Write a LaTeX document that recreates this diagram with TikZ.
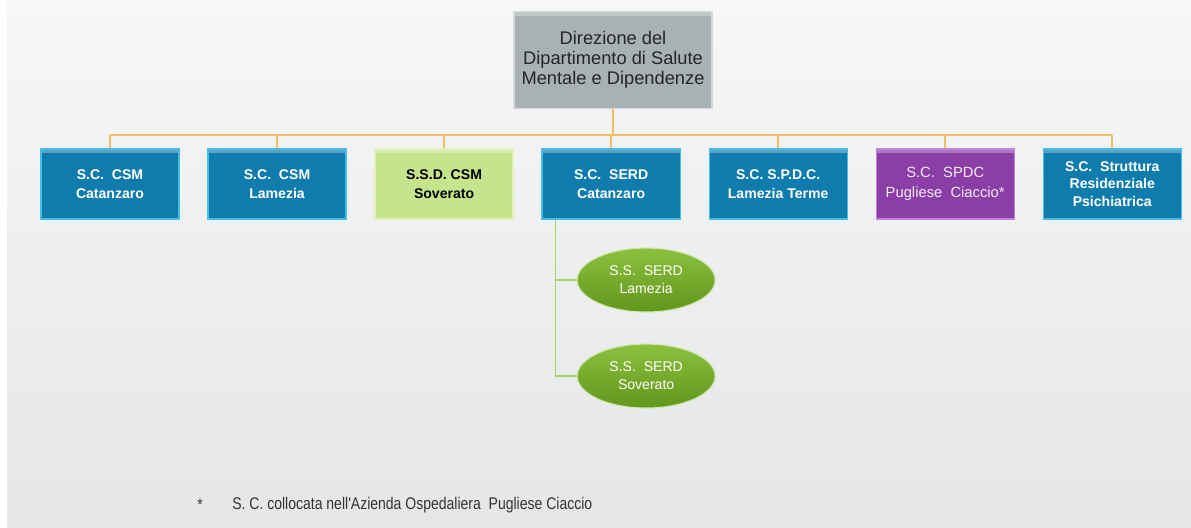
\documentclass[tikz,border=0pt]{standalone}
\usepackage{fontspec}
\setmainfont{Liberation Sans}
\newfontfamily\notefont[FakeStretch=0.83]{Liberation Sans}
\usetikzlibrary{positioning,shapes.geometric}

\definecolor{bgtop}{RGB}{247,247,247}
\definecolor{bgbot}{RGB}{229,230,232}
\definecolor{csmblue}{RGB}{16,124,174}
\definecolor{csmedge}{RGB}{70,190,228}
\definecolor{dirgray}{RGB}{168,177,179}
\definecolor{diredge}{RGB}{212,217,219}
\definecolor{ssdgreen}{RGB}{198,228,140}
\definecolor{ssdedge}{RGB}{226,242,190}
\definecolor{aopurple}{RGB}{138,62,166}
\definecolor{aoedge}{RGB}{196,130,222}
\definecolor{serdgreen}{RGB}{98,150,28}
\definecolor{serdlight}{RGB}{140,192,62}
\definecolor{orgorange}{RGB}{242,192,96}
\definecolor{subgreen}{RGB}{170,208,106}

\begin{document}
\begin{tikzpicture}[x=0.025cm,y=-0.025cm,node distance=4.175cm,on grid,
    unit/.style={rectangle,minimum width=3.45cm,minimum height=1.75cm,inner sep=1pt,align=center,
        fill=csmblue,draw=csmedge,line width=0.9pt,text=white,
        font=\bfseries\fontsize{10}{14}\selectfont,
        path picture={\fill[white,opacity=0.3] (path picture bounding box.north west) rectangle ([yshift=-3pt]path picture bounding box.north east);}},
    ssdunit/.style={unit,fill=ssdgreen,draw=ssdedge,text=black},
    aounit/.style={unit,fill=aopurple,draw=aoedge,text=white!90!aopurple,font=\fontsize{10.5}{14}\selectfont},
    topbox/.style={unit,minimum width=4.95cm,minimum height=2.425cm,fill=dirgray,draw=diredge,
        text=black!85,font=\fontsize{13}{14.2}\selectfont},
    subunit/.style={ellipse,minimum width=3.45cm,minimum height=1.6cm,inner sep=0pt,align=center,
        top color=serdlight,bottom color=serdgreen,draw=white!60!serdlight,line width=0.8pt,
        text=white,font=\fontsize{10}{12.8}\selectfont},
    orgline/.style={draw=orgorange,line width=1.1pt},
    subline/.style={draw=subgreen,line width=1.1pt},
    note/.style={inner sep=0pt,text=black!80,font=\notefont\fontsize{12}{14}\selectfont}]
    % background
    \fill[white] (0,0) rectangle (1191,527);
    \shade[top color=bgtop,bottom color=bgbot] (7,0) rectangle (1191,527);
    \useasboundingbox (0,0) rectangle (1191,527);

    \node[topbox] (dir) at (613,60) {Direzione del\\Dipartimento di Salute\\Mentale e Dipendenze};
    \node[unit] (csmcz) at (110,184) {S.C.\ \ CSM\\Catanzaro};
    \node[unit] (csmlam) [right=of csmcz] {S.C.\ \ CSM\\Lamezia};
    \node[ssdunit] (csmsov) [right=of csmlam] {S.S.D. CSM\\Soverato};
    \node[unit] (serdcz) [right=of csmsov] {S.C.\ \ SERD\\Catanzaro};
    \node[unit] (spdclam) [right=of serdcz] {S.C. S.P.D.C.\\Lamezia Terme};
    \node[aounit] (spdcpc) [right=of spdclam] {S.C.\ \ SPDC\\Pugliese\ \ Ciaccio*};
    \node[unit,font=\bfseries\fontsize{10}{12.4}\selectfont] (srp) [right=of spdcpc] {S.C.\ \ Struttura\\Residenziale\\Psichiatrica};

    \node[subunit] (serdlam) [below right=2.4cm and 0.875cm of serdcz] {S.S.\ \ SERD\\Lamezia};
    \node[subunit] (serdsov) [below=2.4cm of serdlam] {S.S.\ \ SERD\\Soverato};

    % connectors
    \coordinate (bus) at (613,135);
    \draw[orgline] (dir.south) -- (dir.south |- bus);
    \draw[orgline] (csmcz.north |- bus) -- (srp.north |- bus);
    \foreach \n in {csmcz,csmlam,csmsov,serdcz,spdclam,spdcpc,srp}
        \draw[orgline] (\n.north) -- (\n.north |- bus);

    \coordinate (tap) at ([xshift=0.35cm]serdcz.south west);
    \draw[subline] (tap) |- (serdlam.west);
    \draw[subline] (tap) |- (serdsov.west);

    % footnote
    \node[note] (star) at (200,505) {*};
    \node[note,anchor=west] (fnote) at (232,505) {S. C. collocata nell'Azienda Ospedaliera\ \ Pugliese Ciaccio};
\end{tikzpicture}
\end{document}
